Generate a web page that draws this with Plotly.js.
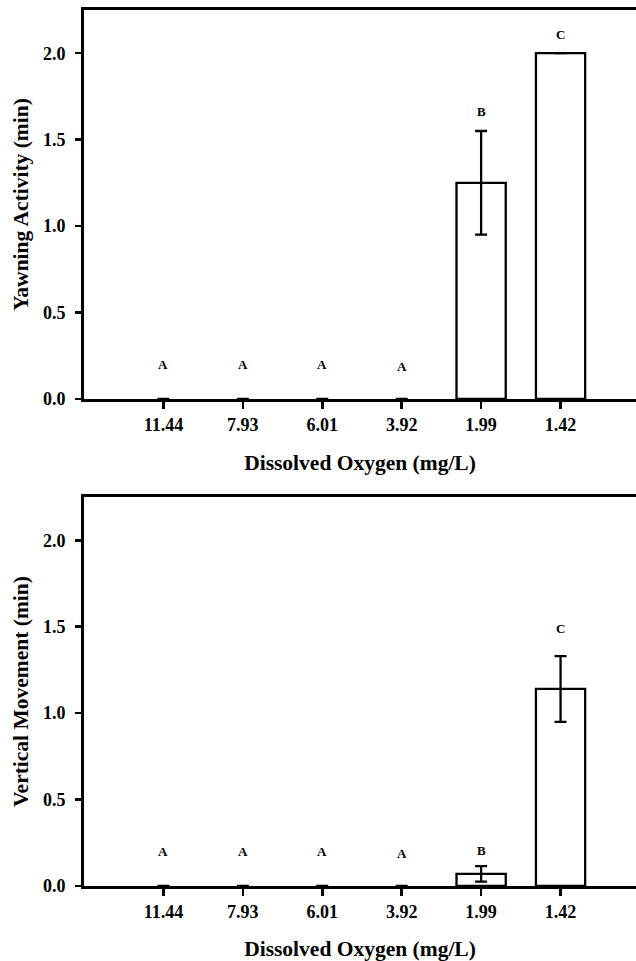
<!DOCTYPE html>
<html><head><meta charset="utf-8">
<script src="https://cdn.plot.ly/plotly-3.0.1.min.js"></script>
<style>html,body{margin:0;padding:0;background:#fff}#chart{width:636px;height:961px}</style>
</head><body><div id="chart"></div>
<script>
const categories = ['11.44','7.93','6.01','3.92','1.99','1.42'];
const yawnMean = [0, 0, 0, 0, 1.25, 2.0];
const yawnErr = [null, null, null, null, 0.30, null];
const yawnLetters = ['A','A','A','A','B','C'];
const yawnLetterY = [0.20, 0.20, 0.20, 0.19, 1.66, 2.11];
const vertMean = [0, 0, 0, 0, 0.07, 1.14];
const vertErr = [null, null, null, null, 0.045, 0.19];
const vertLetters = ['A','A','A','A','B','C'];
const vertLetterY = [0.20, 0.20, 0.20, 0.19, 0.205, 1.49];
const yTickVals = [0, 0.5, 1.0, 1.5, 2.0];
const xTitle = 'Dissolved Oxygen (mg/L)';
const yTitleTop = 'Yawning Activity (min)';
const yTitleBottom = 'Vertical Movement (min)';

const FONT = 'Liberation Serif, Times New Roman, serif';

function barTrace(vals, errs, xa, ya) {
  return {
    type: 'bar', x: categories, y: vals, xaxis: xa, yaxis: ya,
    width: 0.62,
    marker: {color: '#ffffff', line: {color: '#000000', width: vals.map(v => v > 0 ? 2.3 : 0)}},
    error_y: {type: 'data', array: errs, visible: true, color: '#000000', thickness: 2.3, width: 6},
    hoverinfo: 'skip'
  };
}

function xAxis(anchor) {
  return {
    type: 'category', anchor: anchor, range: [-1, 5.95],
    showline: true, linewidth: 3, linecolor: '#000', mirror: true,
    ticks: 'outside', ticklen: 7, tickwidth: 2.5, tickcolor: '#000',
    showgrid: false, zeroline: false,
    tickfont: {family: FONT, size: 18, color: '#000', weight: 'bold'},
    title: {text: xTitle, font: {family: FONT, size: 21.5, color: '#000', weight: 'bold'}, standoff: 22},
    fixedrange: true
  };
}

function yAxis(anchor, domain, title) {
  return {
    anchor: anchor, domain: domain, range: [0, 2.25],
    tickvals: yTickVals, tickformat: '.1f',
    showline: true, linewidth: 3, linecolor: '#000', mirror: false,
    ticks: 'outside', ticklen: 6, tickwidth: 2.5, tickcolor: '#000',
    ticklabelstandoff: 6,
    showgrid: false, zeroline: false,
    tickfont: {family: FONT, size: 18, color: '#000', weight: 'bold'},
    title: {text: title, font: {family: FONT, size: 21.5, color: '#000', weight: 'bold'}, standoff: 9},
    fixedrange: true
  };
}

function letterAnns(letters, ys, xa, ya) {
  return letters.map((t, i) => ({
    x: i, y: ys[i], xref: xa, yref: ya, text: t, showarrow: false,
    font: {family: FONT, size: 13, color: '#000', weight: 'bold'}
  }));
}

const data = [
  barTrace(yawnMean, yawnErr, 'x', 'y'),
  barTrace(vertMean, vertErr, 'x2', 'y2')
];

const layout = {
  width: 636, height: 961,
  margin: {l: 84, r: 0, t: 10, b: 75},
  paper_bgcolor: '#fff', plot_bgcolor: '#fff',
  showlegend: false,
  xaxis: xAxis('y'),
  yaxis: yAxis('x', [0.556, 1], yTitleTop),
  xaxis2: xAxis('y2'),
  yaxis2: yAxis('x2', [0, 0.444], yTitleBottom),
  annotations: letterAnns(yawnLetters, yawnLetterY, 'x', 'y').concat(letterAnns(vertLetters, vertLetterY, 'x2', 'y2'))
};

Plotly.newPlot('chart', data, layout, {displayModeBar: false, staticPlot: true});
</script></body></html>
